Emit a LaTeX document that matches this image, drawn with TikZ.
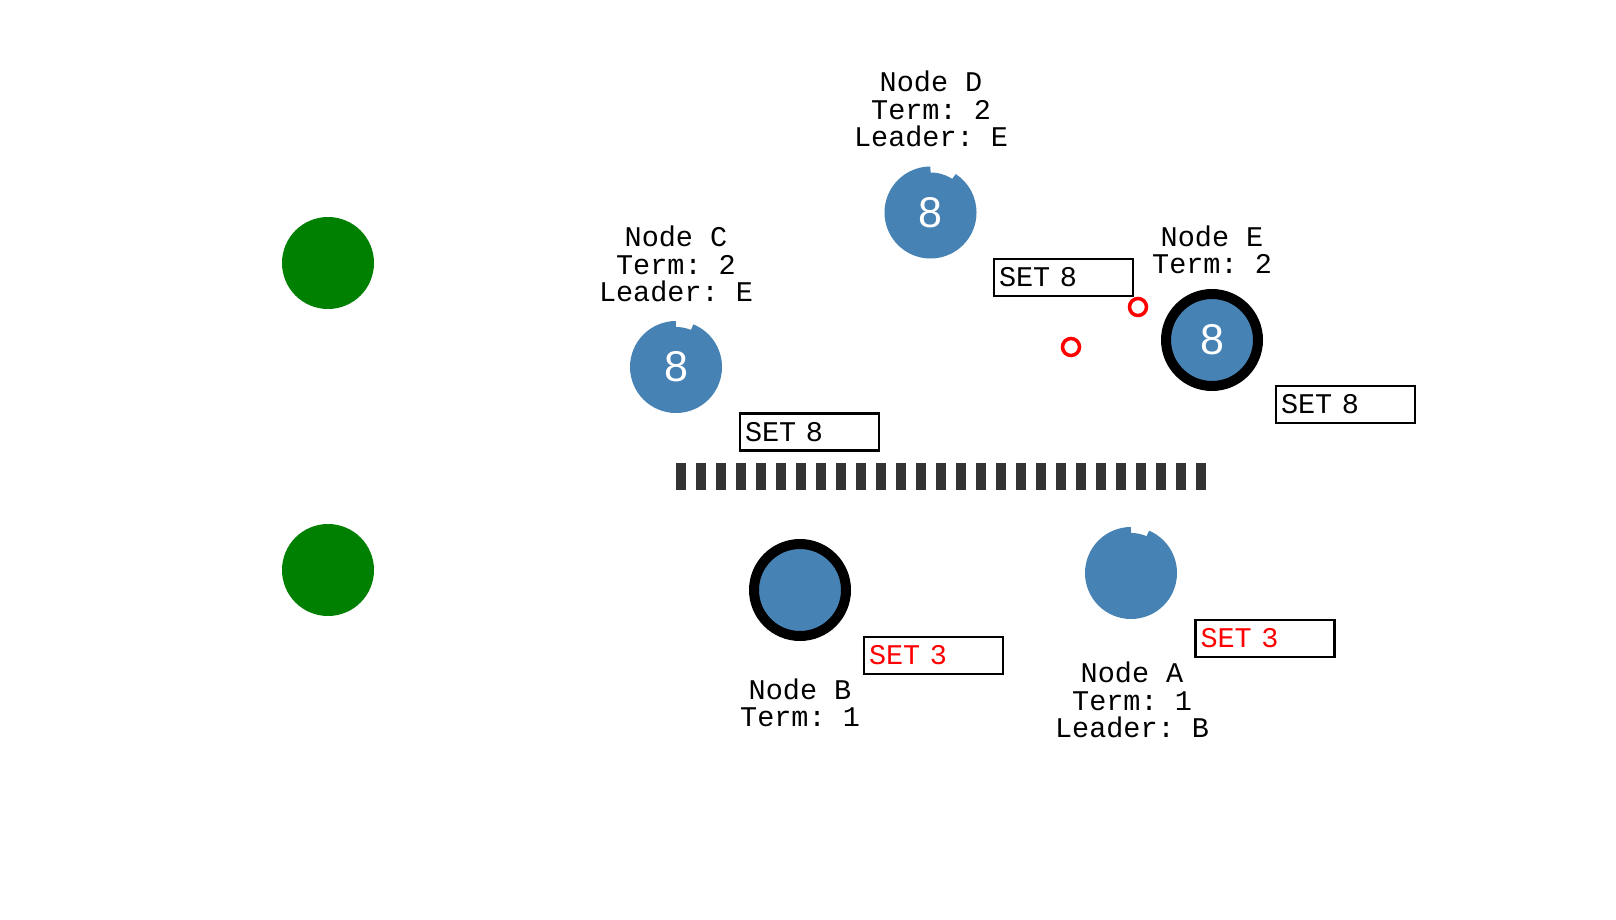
\documentclass[tikz,border=0pt]{standalone}
\usepackage{fontspec}
\setmonofont{Liberation Mono}
\setsansfont{Liberation Sans}
\usetikzlibrary{positioning}

\definecolor{srvblue}{HTML}{4682B4}
\definecolor{srvgreen}{HTML}{008000}
\definecolor{wallgray}{HTML}{333333}
\definecolor{msgred}{HTML}{FF0000}

\tikzset{
  srv/.style={circle, fill=srvblue, inner sep=0pt, minimum size=92pt, text=white,
    font=\sffamily\fontsize{43}{43}\selectfont},
  srvcut/.style={srv, minimum size=80pt},
  leader/.style={srv, draw=black, line width=10pt},
  ring/.style={srvblue, line width=8pt},
  peer/.style={circle, fill=srvgreen, inner sep=0pt, minimum size=92pt},
  info/.style={align=center, inner sep=0pt, font=\ttfamily\fontsize{28.5}{27.5}\selectfont},
  setbox/.style={draw, line width=2.5pt, inner xsep=5pt, inner ysep=0pt, text width=129pt,
    minimum height=37pt, align=left, font=\ttfamily\fontsize{28.5}{28}\selectfont},
  msg/.style={circle, draw=msgred, line width=3.5pt, minimum size=17pt, inner sep=0pt}
}

\begin{document}
\begin{tikzpicture}[x=1pt,y=-1pt]
\fill[white] (0,0) rectangle (1616,920);
\useasboundingbox (0,0) rectangle (1616,920);

% peers on the left
\node[peer] (peerT) at (328,263) {};
\node[peer] (peerB) at (328,570) {};

% partition
\coordinate (wallL) at (676,476.5);
\coordinate (wallR) at (1206,476.5);
\draw[wallgray, line width=27pt, dash pattern=on 10pt off 10pt] (wallL) -- (wallR);

% servers
\node[srvcut] (srvC) at (676,367) {8};
\draw[ring] (srvC.center) ++(90:42pt) arc[start angle=90, end angle=428, radius=42pt];
\node[srvcut] (srvD) at (930.5,212.5) {8};
\draw[ring] (srvD.center) ++(90:42pt) arc[start angle=90, end angle=417, radius=42pt];
\node[leader] (srvE) at (1212,340) {8};
\node[leader] (srvB) at (800,590) {};
\node[srvcut] (srvA) at (1131,573) {};
\draw[ring] (srvA.center) ++(90:42pt) arc[start angle=90, end angle=427, radius=42pt];

% labels
\node[info] (infoD) at (931,109) {Node D\\Term: 2\\Leader: E};
\node[info] (infoC) at (676,264) {Node C\\Term: 2\\Leader: E};
\node[info] (infoE) at (1212,250) {Node E\\Term: 2};
\node[info] (infoB) at (800,703) {Node B\\Term: 1};
\node[info] (infoA) at (1132,700) {Node A\\Term: 1\\Leader: B};

% messages
\node[setbox] (setC) at (809.5,432) {SET 8};
\node[setbox] (setD) at (1063.5,277.5) {SET 8};
\node[setbox] (setE) at (1345.5,404.5) {SET 8};
\node[setbox, text=msgred] (setB) at (933.5,655.5) {SET 3};
\node[setbox, text=msgred] (setA) at (1265,638.5) {SET 3};
\node[msg] (ackT) at (1138,307) {};
\node[msg] (ackB) at (1071,347) {};
\end{tikzpicture}
\end{document}
